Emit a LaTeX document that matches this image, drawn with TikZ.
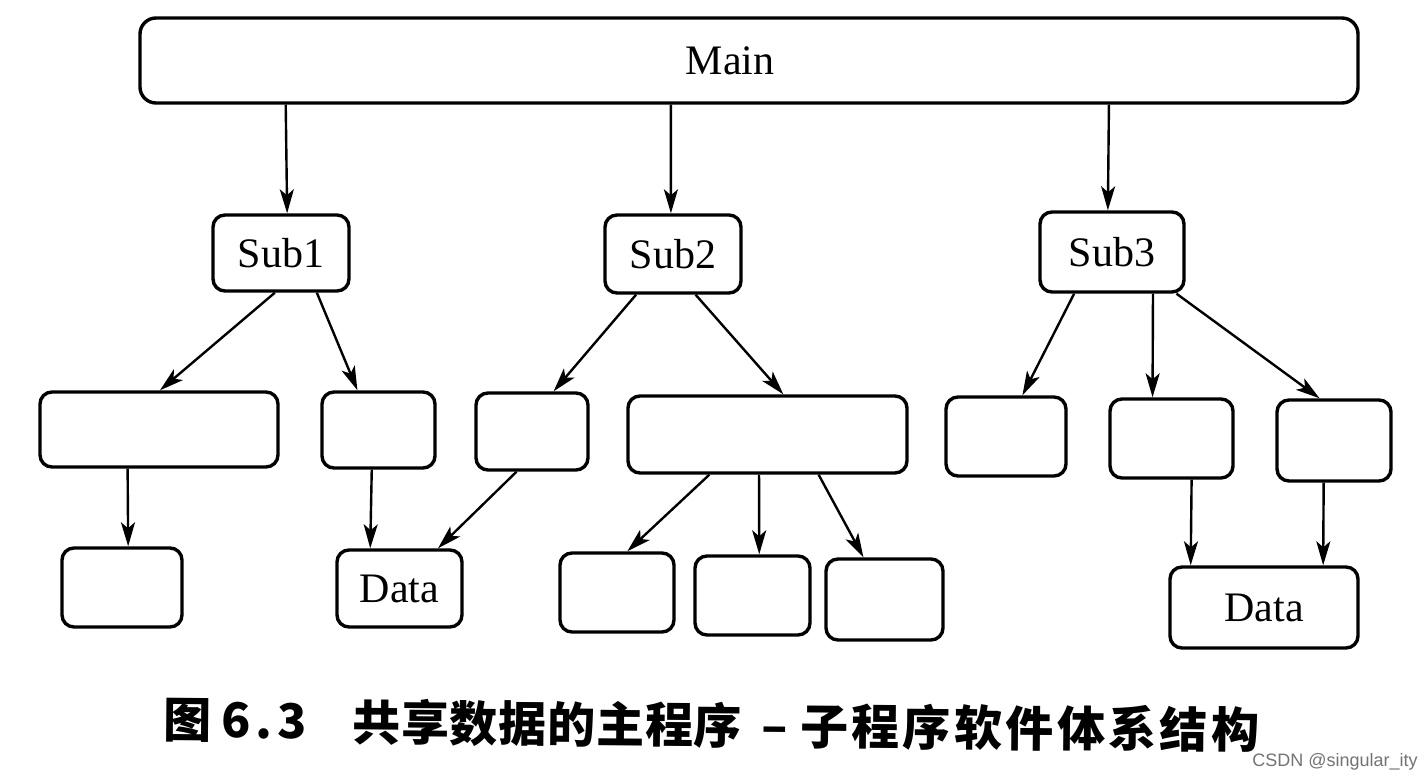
\documentclass[tikz,border=0pt]{standalone}
\usepackage{fontspec}
\setmainfont{Liberation Serif}
\newfontfamily\cjkfont{Noto Sans CJK SC}
\newfontfamily\wmfont{Liberation Sans}
\usetikzlibrary{calc,arrows.meta}
\tikzset{
  box/.style={draw=black, line width=1.7pt, rounded corners=6pt, inner sep=0pt,
    font=\fontsize{21}{21}\selectfont},
  arr/.style={draw=black, line width=1.2pt, -{Stealth[length=12pt,width=7pt,inset=3pt]}},
  captext/.style={anchor=west, inner sep=0pt, rotate=-0.5, font=\cjkfont\bfseries\fontsize{24}{24}\selectfont},
}
\newcommand{\cjkspa}{\hspace{0.4pt}}
\newcommand{\cjkspb}{\hspace{1.7pt}}
\begin{document}
\begin{tikzpicture}[x=0.5pt,y=-0.5pt]
\useasboundingbox[fill=white] (0,0) rectangle (1428,780);
% nodes
\node[box, minimum width=609pt, minimum height=42.5pt, rounded corners=8pt] (Main) at (749,60.5) {\hspace*{-19pt}Main};
\node[box, minimum width=68pt, minimum height=38pt] (Sub1) at (281,253) {Sub1};
\node[box, minimum width=68pt, minimum height=39pt] (Sub2) at (673,254) {Sub2};
\node[box, minimum width=72pt, minimum height=40pt] (Sub3) at (1112,252) {Sub3};
\node[box, minimum width=119pt, minimum height=37.5pt] (A1) at (159,429.5) {};
\node[box, minimum width=56.5pt, minimum height=38pt] (A2) at (378.5,430) {};
\node[box, minimum width=56pt, minimum height=38.5pt] (A3) at (532,431.5) {};
\node[box, minimum width=139.5pt, minimum height=38.5pt] (A4) at (767.5,434.5) {};
\node[box, minimum width=60pt, minimum height=39.5pt] (A5) at (1006,436.5) {};
\node[box, minimum width=61.5pt, minimum height=39.5pt] (A6) at (1171.5,438.5) {};
\node[box, minimum width=57pt, minimum height=40.5pt] (A7) at (1334,440.5) {};
\node[box, minimum width=60pt, minimum height=39.5pt] (B1) at (122,587.5) {};
\node[box, minimum width=62.5pt, minimum height=38.5pt] (D1) at (399.5,588.5) {Data};
\node[box, minimum width=57pt, minimum height=39.5pt] (B3) at (617,592.5) {};
\node[box, minimum width=57.5pt, minimum height=39.5pt] (B4) at (752.5,595.5) {};
\node[box, minimum width=58.5pt, minimum height=40.5pt] (B5) at (884.5,599.5) {};
\node[box, minimum width=94pt, minimum height=40.5pt] (D2) at (1264,607.5) {Data};
% connectors
\draw[arr] ($(Main.south west)!0.1207!(Main.south east)$) -- ($(Sub1.north west)!0.544!(Sub1.north east)$);
\draw[arr] ($(Main.south west)!0.436!(Main.south east)$) -- ($(Sub2.north west)!0.485!(Sub2.north east)$);
\draw[arr] ($(Main.south west)!0.7947!(Main.south east)$) -- ($(Sub3.north west)!0.472!(Sub3.north east)$);
\draw[arr] ($(Sub1.south west)!0.456!(Sub1.south east)$) -- ($(A1.north west)!0.504!(A1.north east)$);
\draw[arr] ($(Sub1.south west)!0.757!(Sub1.south east)$) -- ($(A2.north west)!0.319!(A2.north east)$);
\draw[arr] ($(Sub2.south west)!0.235!(Sub2.south east)$) -- ($(A3.north west)!0.6875!(A3.north east)$);
\draw[arr] ($(Sub2.south west)!0.662!(Sub2.south east)$) -- ($(A4.north west)!0.556!(A4.north east)$);
\draw[arr] ($(Sub3.south west)!0.243!(Sub3.south east)$) -- ($(A5.north west)!0.633!(A5.north east)$);
\draw[arr] ($(Sub3.south west)!0.778!(Sub3.south east)$) -- ($(A6.north west)!0.35!(A6.north east)$);
\draw[arr] ($(Sub3.south west)!0.9375!(Sub3.south east)$) -- ($(A7.north west)!0.377!(A7.north east)$);
\draw[arr] ($(A1.south west)!0.37!(A1.south east)$) -- ($(B1.north west)!0.55!(B1.north east)$);
\draw[arr] ($(A2.south west)!0.442!(A2.south east)$) -- ($(D1.north west)!0.272!(D1.north east)$);
\draw[arr] ($(A3.south west)!0.366!(A3.south east)$) -- ($(D1.north west)!0.8!(D1.north east)$);
\draw[arr] ($(A4.south west)!0.294!(A4.south east)$) -- ($(B3.north west)!0.588!(B3.north east)$);
\draw[arr] ($(A4.south west)!0.47!(A4.south east)$) -- ($(B4.north west)!0.557!(B4.north east)$);
\draw[arr] ($(A4.south west)!0.681!(A4.south east)$) -- ($(B5.north west)!0.325!(B5.north east)$);
\draw[arr] ($(A6.south west)!0.659!(A6.south east)$) -- ($(D2.north west)!0.117!(D2.north east)$);
\draw[arr] ($(A7.south west)!0.412!(A7.south east)$) -- ($(D2.north west)!0.809!(D2.north east)$);
% caption
\node[captext] (capno) at (163,720) {图\hspace{5pt}6\hspace{2.5pt}.\hspace{2.5pt}3};
\node[captext] (cap) at (352,722)
  {共\cjkspa 享\cjkspa 数\cjkspa 据\cjkspa 的\cjkspa 主\cjkspa 程\cjkspa 序\hspace{10pt}–\hspace{6pt}子\cjkspb 程\cjkspb 序\cjkspb 软\cjkspb 件\cjkspb 体\cjkspb 系\cjkspb 结\cjkspb 构};
\node[anchor=east, inner sep=0pt, text=black!55, font=\wmfont\fontsize{9}{9}\selectfont] (wm) at (1418,762) {CSDN @singular\_ity};
\end{tikzpicture}
\end{document}
